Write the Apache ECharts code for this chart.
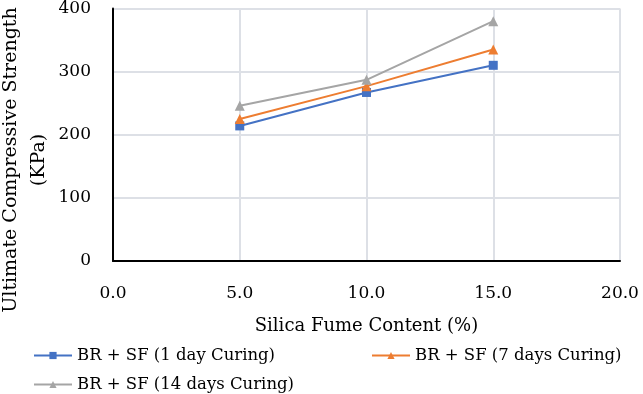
<!DOCTYPE html>
<html><head><meta charset="utf-8">
<script src="https://cdn.jsdelivr.net/npm/echarts@6/dist/echarts.min.js"></script>
<style>html,body{margin:0;padding:0;background:#fff}#c{width:643px;height:394px}</style>
</head><body><div id="c"></div>
<script>
const silicaFume = [5, 10, 15];
const oneDay = [214, 267, 310];
const sevenDays = [225, 277, 335];
const fourteenDays = [246, 287, 380];
const seriesNames = ['BR + SF (1 day Curing)', 'BR + SF (7 days Curing)', 'BR + SF (14 days Curing)'];
const xTitle = 'Silica Fume Content (%)';
const yTitle = 'Ultimate Compressive Strength\n(KPa)';

const FONT = '"DejaVu Serif", serif';
const colors = ['#4472C4', '#ED7D31', '#A5A5A5'];
const pair = v => silicaFume.map((x, i) => [x, v[i]]);
const chart = echarts.init(document.getElementById('c'));
const mk = (name, data, color, symbol, size) => ({
  name, type: 'line', data: pair(data), symbol, symbolSize: size,
  itemStyle: { color }, lineStyle: { color, width: 2 }, z: 3
});
const legendText = { fontFamily: FONT, fontSize: 16.5, color: '#000' };
chart.setOption({
  animation: false,
  textStyle: { fontFamily: FONT },
  grid: { left: 113, right: 23, top: 7, bottom: 133, containLabel: false },
  xAxis: {
    type: 'value', min: 0, max: 20, interval: 5,
    name: xTitle, nameLocation: 'middle', nameGap: 56,
    nameTextStyle: { fontFamily: FONT, fontSize: 18, color: '#000' },
    axisLine: { show: true, lineStyle: { color: '#000', width: 2 } },
    axisTick: { show: false },
    axisLabel: { formatter: v => v.toFixed(1), fontFamily: FONT, fontSize: 17, color: '#000', margin: 24 },
    splitLine: { show: true, lineStyle: { color: '#DDE0E6', width: 2 } }
  },
  yAxis: {
    type: 'value', min: 0, max: 400, interval: 100,
    axisLine: { show: true, onZero: false, lineStyle: { color: '#000', width: 2 } },
    axisTick: { show: false },
    axisLabel: { fontFamily: FONT, fontSize: 17, color: '#000', margin: 22 },
    splitLine: { show: true, lineStyle: { color: '#DDE0E6', width: 2 } }
  },
  graphic: [{
    type: 'text', x: 25, y: 160, rotation: Math.PI / 2,
    style: { text: yTitle, font: '19px ' + FONT, fill: '#000', align: 'center', verticalAlign: 'middle', lineHeight: 28 }
  }],
  legend: [
    { data: [seriesNames[0]], left: 28, top: 342, itemWidth: 38, itemHeight: 9, textStyle: legendText },
    { data: [seriesNames[1]], left: 366, top: 342, itemWidth: 38, itemHeight: 9, textStyle: legendText },
    { data: [seriesNames[2]], left: 28, top: 371, itemWidth: 38, itemHeight: 9, textStyle: legendText }
  ],
  series: [
    mk(seriesNames[0], oneDay, colors[0], 'rect', 9),
    mk(seriesNames[1], sevenDays, colors[1], 'triangle', 10),
    mk(seriesNames[2], fourteenDays, colors[2], 'triangle', 10)
  ]
});
</script></body></html>
